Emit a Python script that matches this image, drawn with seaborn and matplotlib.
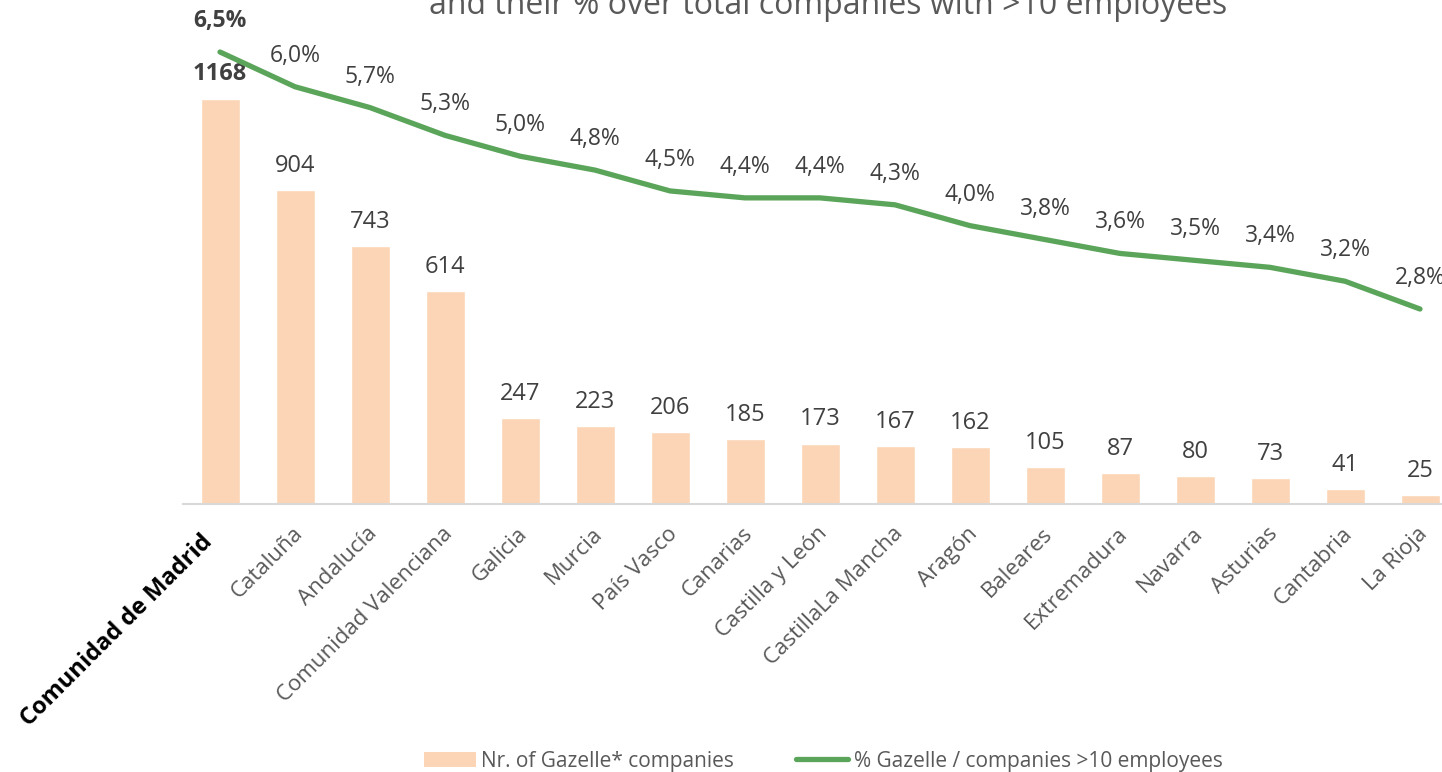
import numpy as np
import pandas as pd
import matplotlib
matplotlib.use('Agg')
import matplotlib.pyplot as plt
import matplotlib.transforms as mtransforms
import seaborn as sns
from matplotlib.lines import Line2D
from matplotlib.patches import Patch

# Data
regions = ['Comunidad de Madrid', 'Cataluña', 'Andalucía', 'Comunidad Valenciana',
           'Galicia', 'Murcia', 'País Vasco', 'Canarias', 'Castilla y León',
           'CastillaLa Mancha', 'Aragón', 'Baleares', 'Extremadura', 'Navarra',
           'Asturias', 'Cantabria', 'La Rioja']
gazelle_companies = [1168, 904, 743, 614, 247, 223, 206, 185, 173, 167, 162, 105, 87, 80, 73, 41, 25]
gazelle_pct = [6.5, 6.0, 5.7, 5.3, 5.0, 4.8, 4.5, 4.4, 4.4, 4.3, 4.0, 3.8, 3.6, 3.5, 3.4, 3.2, 2.8]

bar_color = '#FBD5B5'
line_color = '#5BA55B'
text_gray = '#404040'
tick_gray = '#595959'

df = pd.DataFrame({'region': regions, 'companies': gazelle_companies, 'pct': gazelle_pct})
df['pos'] = np.arange(len(df))

sns.set_style('white')
plt.rcParams['font.family'] = ['Open Sans', 'DejaVu Sans']

W, H = 1442, 772
fig = plt.figure(figsize=(W / 100, H / 100), dpi=100)
# axes extend slightly past the right edge, as in the original
left, right, base = 182.5, 1457.5, 503.5
ax = fig.add_axes([left / W, 1 - base / H, (right - left) / W, base / H])

sns.barplot(data=df, x='region', y='companies', color=bar_color, width=0.52,
            saturation=1, ax=ax)
ax.set_xlim(-0.5, len(df) - 0.5)
ax.set_ylim(0, base / 0.3467)

ax2 = ax.twinx()
sns.lineplot(data=df, x='pos', y='pct', color=line_color, linewidth=3.8,
             solid_capstyle='round', ax=ax2)
ax2.set_ylim(0, base / 69.46)
ax2.set_xlim(-0.5, len(df) - 0.5)

for a in (ax, ax2):
    a.set_ylabel('')
    a.set_xlabel('')
    a.set_yticks([])
    for s in ['top', 'left', 'right']:
        a.spines[s].set_visible(False)
ax2.spines['bottom'].set_visible(False)
ax.spines['bottom'].set_color('#D9D9D9')
ax.spines['bottom'].set_linewidth(1.5)

# bar labels
for i, v in enumerate(df['companies']):
    ax.annotate(str(v), (i, v), xytext=(0, 13), textcoords='offset points',
                ha='center', va='baseline', fontsize=17, color=text_gray,
                fontweight='bold' if i == 0 else 'normal')

# percent labels
for i, v in enumerate(df['pct']):
    ax2.annotate(f'{v:.1f}%'.replace('.', ','), (i, v), xytext=(0, 18),
                 textcoords='offset points', ha='center', va='baseline',
                 fontsize=16.5, color=text_gray,
                 fontweight='bold' if i == 0 else 'normal', annotation_clip=False)

# x tick labels
ax.set_xticks(df['pos'])
ax.set_xticklabels(df['region'], rotation=45, ha='right', rotation_mode='anchor',
                   fontsize=16, color=tick_gray)
ax.tick_params(axis='x', length=0, pad=14)
labels = ax.get_xticklabels()
for k, lab in enumerate(labels):
    if k == 0:
        lab.set_fontweight('bold')
        lab.set_color('black')
        lab.set_fontsize(17)
        dx, dy = -20, -7
    else:
        dx, dy = -3, 0
    lab.set_transform(lab.get_transform() +
                      mtransforms.ScaledTranslation(dx / 100, dy / 100, fig.dpi_scale_trans))

# title (cut off at the top in the original)
fig.text(828 / W, 1 - 14 / H, 'and their % over total companies with >10 employees',
         ha='center', va='baseline', fontsize=23, color=tick_gray)

handles = [Patch(facecolor=bar_color, edgecolor='none'),
           Line2D([0], [0], color=line_color, linewidth=3.8, solid_capstyle='round')]
fig.legend(handles, ['Nr. of Gazelle* companies', '% Gazelle / companies >10 employees'],
           loc='center', bbox_to_anchor=(823 / W, 1 - 761 / H), ncol=2, frameon=False,
           fontsize=15, labelcolor=tick_gray, handlelength=2.5, handleheight=0.7,
           columnspacing=3.0, handletextpad=0.25)

fig.savefig('out.png', dpi=100)
